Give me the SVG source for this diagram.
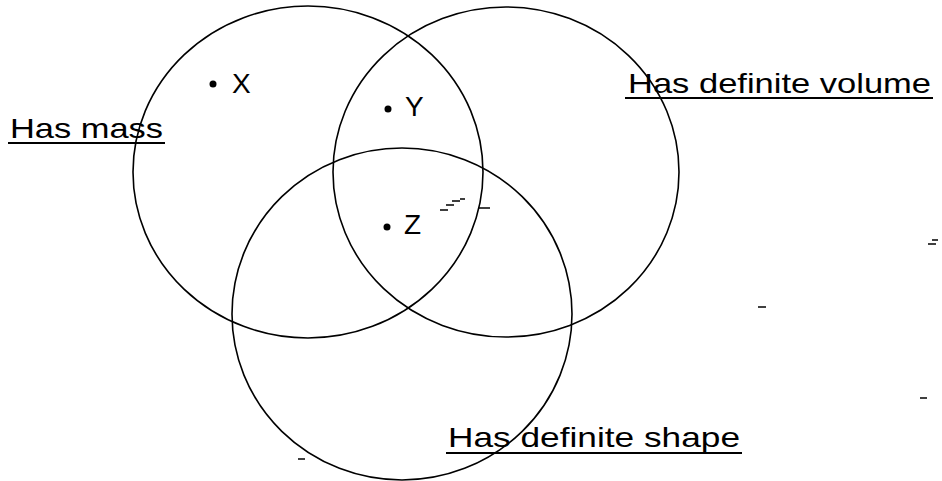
<svg xmlns="http://www.w3.org/2000/svg" width="942" height="481" viewBox="0 0 942 481">
<style>
.c{fill:none;stroke:#000;stroke-width:1.6}
.lbl{font-family:"Liberation Sans",Arial,sans-serif;font-size:28px;fill:#000}
.pt{font-family:"Liberation Sans",Arial,sans-serif;font-size:28px;fill:#000}
.ul{stroke:#000;stroke-width:2}
.m{stroke:#000;stroke-width:1.5;fill:none}
</style>
<rect width="942" height="481" fill="#fff"/>
<g id="set-mass">
<ellipse class="c" cx="308" cy="172" rx="175" ry="166"/>
<text class="lbl" x="10" y="138" textLength="153" lengthAdjust="spacingAndGlyphs">Has mass</text>
<line class="ul" x1="8" y1="143" x2="165" y2="143"/>
</g>
<g id="set-volume">
<ellipse class="c" cx="506" cy="172" rx="173" ry="165"/>
<text class="lbl" x="628" y="93" textLength="303" lengthAdjust="spacingAndGlyphs">Has definite volume</text>
<line class="ul" x1="625" y1="98" x2="933" y2="98"/>
</g>
<g id="set-shape">
<ellipse class="c" cx="402" cy="314" rx="170" ry="166"/>
<text class="lbl" x="448" y="447" textLength="292" lengthAdjust="spacingAndGlyphs">Has definite shape</text>
<line class="ul" x1="446" y1="453" x2="742" y2="453"/>
</g>
<g id="point-x">
<circle cx="213" cy="84" r="3.5"/>
<text class="pt" x="232" y="93">X</text>
</g>
<g id="point-y">
<circle cx="388" cy="109" r="3.5"/>
<text class="pt" x="405" y="116">Y</text>
</g>
<g id="point-z">
<circle cx="387" cy="227" r="3.5"/>
<text class="pt" x="404" y="234">Z</text>
</g>
<g id="connectors"></g>
<g id="marks">
<path class="m" d="M440 210h8M446 205h8M452 201h8M460 199h5M478 208h12"/>
<path class="m" d="M928 244h8M932 240h6"/>
<path class="m" d="M758 307h8"/>
<path class="m" d="M920 398h7"/>
<path class="m" d="M298 459h7"/>
</g>
</svg>
